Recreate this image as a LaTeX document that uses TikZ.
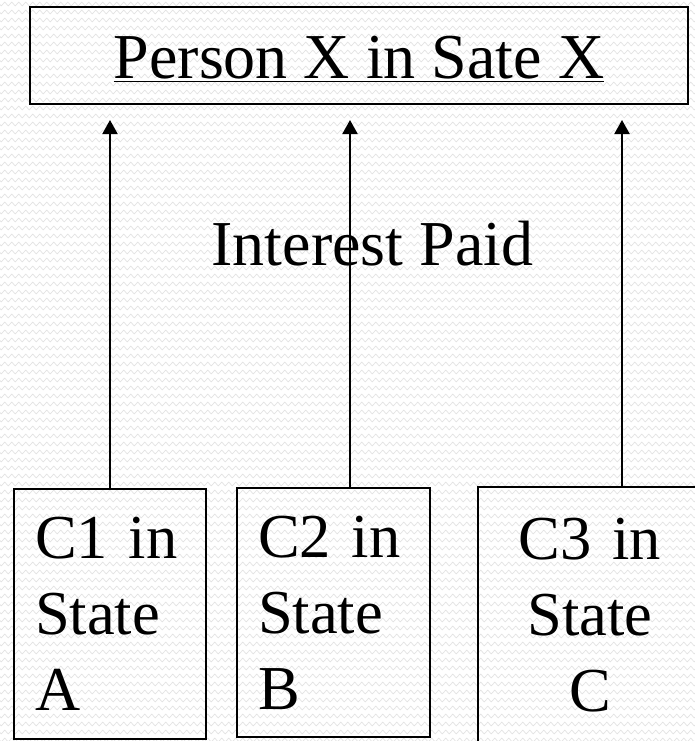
\documentclass[tikz,border=0pt]{standalone}
\usepackage{fontspec}
\setmainfont{Liberation Serif}
\setlength{\parindent}{0pt}
\usetikzlibrary{arrows.meta,decorations.pathmorphing}

\tikzset{
  box/.style={draw=black, line width=2pt, rectangle, inner sep=0pt, outer sep=0pt},
  big/.style={font=\fontsize{64}{76}\selectfont},
  mid/.style={font=\fontsize{62.5}{76}\selectfont},
  link/.style={line width=2pt, -{Triangle[width=15pt,length=14pt]}},
  wave/.style={draw=black!11, line width=0.7pt, decorate,
    decoration={zigzag, segment length=7pt, amplitude=1.8pt}},
}

\begin{document}
\begin{tikzpicture}[x=1pt, y=-1pt]
  \useasboundingbox (0,0) rectangle (694,741);
  \fill[white] (0,0) rectangle (694,741);
  % faint wavy texture of the backdrop
  \foreach \r in {4,12,...,740} {
    \path[wave] (-4,\r) -- (700,\r);
  }

  % top box
  \node[box, minimum width=658pt, minimum height=97pt, big,
        text height=50pt, text depth=3pt] (person) at (359,55.5)
    {\underline{Person X in Sate X}};

  % lower boxes
  \node[box, minimum width=192pt, minimum height=250pt, mid, text width=150pt,
        align=left] (c1) at (110,614) {C1 in\\State\\A};
  \node[box, minimum width=193pt, minimum height=249pt, mid, text width=151pt,
        align=left] (c2) at (333.5,612.5) {C2 in\\State\\B};
  \node[box, minimum width=224pt, minimum height=256pt, mid, text width=190pt,
        align=center] (c3) at (590,615) {C3 in\\State\\C};

  % label between the rows
  \node[big, anchor=base] (paid) at (372.5,265) {Interest Paid};

  % flows up to the person
  \coordinate (t1) at (110,120);
  \coordinate (t2) at (350,120);
  \coordinate (t3) at (622,120);
  \draw[link] (c1.north -| t1) -- (t1);
  \draw[link] (c2.north -| t2) -- (t2);
  \draw[link] (c3.north -| t3) -- (t3);
\end{tikzpicture}
\end{document}
